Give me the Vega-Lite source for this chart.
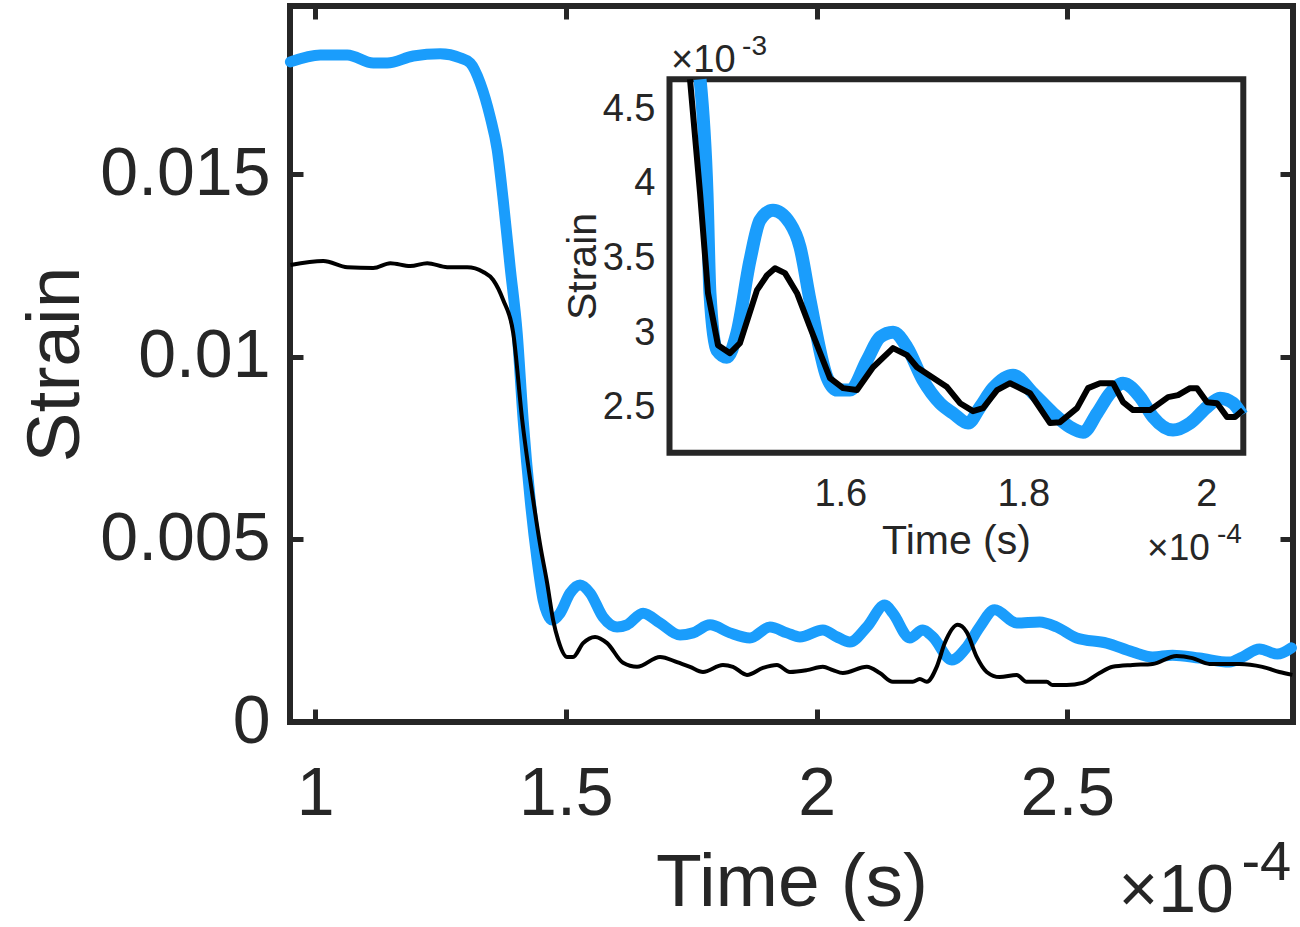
{
  "$schema": "https://vega.github.io/schema/vega-lite/v6.json",
  "width": 1003,
  "height": 716,
  "autosize": {"type": "none"},
  "padding": {"left": 290, "top": 6, "right": 7, "bottom": 205},
  "background": "white",
  "config": {
    "font": "Liberation Sans",
    "view": {"stroke": "#262626", "strokeWidth": 6},
    "axis": {
      "domain": false,
      "grid": false,
      "labelColor": "#262626",
      "titleColor": "#262626",
      "tickColor": "#262626",
      "labelFont": "Liberation Sans",
      "titleFont": "Liberation Sans",
      "titleFontWeight": "normal",
      "labelFlush": false,
      "labelOverlap": false,
      "labelExpr": "format(datum.value, '~g')",
      "zindex": 1
    },
    "text": {"font": "Liberation Sans", "color": "#262626"}
  },
  "datasets": {
    "main": [
      {"t": 0.9508, "v": 0.01807, "s": "a"}, {"t": 1.0106, "v": 0.01826, "s": "a"}, {"t": 1.0643, "v": 0.01826, "s": "a"},
      {"t": 1.1161, "v": 0.01804, "s": "a"}, {"t": 1.144, "v": 0.01804, "s": "a"}, {"t": 1.1958, "v": 0.01823, "s": "a"},
      {"t": 1.2496, "v": 0.01829, "s": "a"}, {"t": 1.2894, "v": 0.01818, "s": "a"}, {"t": 1.3094, "v": 0.01804, "s": "a"},
      {"t": 1.3293, "v": 0.01749, "s": "a"}, {"t": 1.3492, "v": 0.01656, "s": "a"}, {"t": 1.3632, "v": 0.01566, "s": "a"},
      {"t": 1.3751, "v": 0.01429, "s": "a"}, {"t": 1.389, "v": 0.01245, "s": "a"}, {"t": 1.403, "v": 0.01065, "s": "a"},
      {"t": 1.4149, "v": 0.00827, "s": "a"}, {"t": 1.4289, "v": 0.00608, "s": "a"}, {"t": 1.4428, "v": 0.00443, "s": "a"},
      {"t": 1.4548, "v": 0.00334, "s": "a"}, {"t": 1.4627, "v": 0.00298, "s": "a"}, {"t": 1.4727, "v": 0.00279, "s": "a"},
      {"t": 1.4886, "v": 0.00298, "s": "a"}, {"t": 1.5086, "v": 0.00353, "s": "a"}, {"t": 1.5285, "v": 0.00375, "s": "a"},
      {"t": 1.5484, "v": 0.00353, "s": "a"}, {"t": 1.5743, "v": 0.00287, "s": "a"}, {"t": 1.6022, "v": 0.0026, "s": "a"},
      {"t": 1.6221, "v": 0.00266, "s": "a"}, {"t": 1.654, "v": 0.00298, "s": "a"}, {"t": 1.6878, "v": 0.00271, "s": "a"},
      {"t": 1.7277, "v": 0.00238, "s": "a"}, {"t": 1.7536, "v": 0.00244, "s": "a"}, {"t": 1.7875, "v": 0.00266, "s": "a"},
      {"t": 1.8273, "v": 0.00244, "s": "a"}, {"t": 1.8671, "v": 0.0023, "s": "a"}, {"t": 1.907, "v": 0.0026, "s": "a"},
      {"t": 1.9408, "v": 0.00244, "s": "a"}, {"t": 1.9667, "v": 0.00233, "s": "a"}, {"t": 2.0125, "v": 0.00252, "s": "a"},
      {"t": 2.0404, "v": 0.00233, "s": "a"}, {"t": 2.0663, "v": 0.00219, "s": "a"}, {"t": 2.1002, "v": 0.0026, "s": "a"},
      {"t": 2.1361, "v": 0.0032, "s": "a"}, {"t": 2.152, "v": 0.00298, "s": "a"}, {"t": 2.1859, "v": 0.0023, "s": "a"},
      {"t": 2.2118, "v": 0.00252, "s": "a"}, {"t": 2.2317, "v": 0.00233, "s": "a"}, {"t": 2.2695, "v": 0.0017, "s": "a"},
      {"t": 2.2994, "v": 0.00205, "s": "a"}, {"t": 2.3253, "v": 0.0026, "s": "a"}, {"t": 2.3552, "v": 0.00307, "s": "a"},
      {"t": 2.399, "v": 0.00271, "s": "a"}, {"t": 2.4448, "v": 0.00274, "s": "a"}, {"t": 2.4787, "v": 0.0026, "s": "a"},
      {"t": 2.5185, "v": 0.0023, "s": "a"}, {"t": 2.5783, "v": 0.00216, "s": "a"}, {"t": 2.6301, "v": 0.00192, "s": "a"},
      {"t": 2.6699, "v": 0.00178, "s": "a"}, {"t": 2.7098, "v": 0.00183, "s": "a"}, {"t": 2.7635, "v": 0.00175, "s": "a"},
      {"t": 2.8233, "v": 0.00164, "s": "a"}, {"t": 2.8492, "v": 0.00178, "s": "a"}, {"t": 2.8831, "v": 0.002, "s": "a"},
      {"t": 2.9189, "v": 0.00186, "s": "a"}, {"t": 2.9468, "v": 0.00203, "s": "a"},
      {"t": 0.9508, "v": 0.01251, "s": "b"}, {"t": 1.0165, "v": 0.01262, "s": "b"}, {"t": 1.0643, "v": 0.01245, "s": "b"},
      {"t": 1.1161, "v": 0.01243, "s": "b"}, {"t": 1.15, "v": 0.01256, "s": "b"}, {"t": 1.1898, "v": 0.01248, "s": "b"},
      {"t": 1.2237, "v": 0.01256, "s": "b"}, {"t": 1.2635, "v": 0.01245, "s": "b"}, {"t": 1.3034, "v": 0.01245, "s": "b"},
      {"t": 1.3353, "v": 0.01232, "s": "b"}, {"t": 1.3552, "v": 0.0121, "s": "b"}, {"t": 1.3751, "v": 0.01155, "s": "b"},
      {"t": 1.3951, "v": 0.01065, "s": "b"}, {"t": 1.413, "v": 0.00827, "s": "b"}, {"t": 1.4349, "v": 0.00608, "s": "b"},
      {"t": 1.4488, "v": 0.00485, "s": "b"}, {"t": 1.4627, "v": 0.00381, "s": "b"}, {"t": 1.4747, "v": 0.00279, "s": "b"},
      {"t": 1.4847, "v": 0.00225, "s": "b"}, {"t": 1.5026, "v": 0.00178, "s": "b"}, {"t": 1.5145, "v": 0.00178, "s": "b"},
      {"t": 1.5345, "v": 0.00216, "s": "b"}, {"t": 1.5584, "v": 0.00233, "s": "b"}, {"t": 1.5823, "v": 0.00216, "s": "b"},
      {"t": 1.6141, "v": 0.00162, "s": "b"}, {"t": 1.642, "v": 0.00151, "s": "b"}, {"t": 1.6878, "v": 0.00178, "s": "b"},
      {"t": 1.7217, "v": 0.00164, "s": "b"}, {"t": 1.7476, "v": 0.00151, "s": "b"}, {"t": 1.7735, "v": 0.00137, "s": "b"},
      {"t": 1.8133, "v": 0.00156, "s": "b"}, {"t": 1.8333, "v": 0.00151, "s": "b"}, {"t": 1.8612, "v": 0.00129, "s": "b"},
      {"t": 1.893, "v": 0.00148, "s": "b"}, {"t": 1.9209, "v": 0.00156, "s": "b"}, {"t": 1.9468, "v": 0.00137, "s": "b"},
      {"t": 1.9807, "v": 0.00142, "s": "b"}, {"t": 2.0125, "v": 0.00151, "s": "b"}, {"t": 2.0325, "v": 0.00142, "s": "b"},
      {"t": 2.0524, "v": 0.00134, "s": "b"}, {"t": 2.1002, "v": 0.00151, "s": "b"}, {"t": 2.1261, "v": 0.00134, "s": "b"},
      {"t": 2.152, "v": 0.0011, "s": "b"}, {"t": 2.1918, "v": 0.0011, "s": "b"}, {"t": 2.2058, "v": 0.00118, "s": "b"},
      {"t": 2.2197, "v": 0.0011, "s": "b"}, {"t": 2.2396, "v": 0.00151, "s": "b"}, {"t": 2.2556, "v": 0.00216, "s": "b"},
      {"t": 2.2815, "v": 0.00266, "s": "b"}, {"t": 2.2994, "v": 0.00246, "s": "b"}, {"t": 2.3193, "v": 0.00178, "s": "b"},
      {"t": 2.3392, "v": 0.00137, "s": "b"}, {"t": 2.3651, "v": 0.00123, "s": "b"}, {"t": 2.399, "v": 0.00129, "s": "b"},
      {"t": 2.4189, "v": 0.0011, "s": "b"}, {"t": 2.4588, "v": 0.0011, "s": "b"}, {"t": 2.4707, "v": 0.00101, "s": "b"},
      {"t": 2.4986, "v": 0.00101, "s": "b"}, {"t": 2.5305, "v": 0.00107, "s": "b"}, {"t": 2.5643, "v": 0.00134, "s": "b"},
      {"t": 2.5902, "v": 0.00151, "s": "b"}, {"t": 2.6301, "v": 0.00156, "s": "b"}, {"t": 2.6699, "v": 0.00159, "s": "b"},
      {"t": 2.7177, "v": 0.00181, "s": "b"}, {"t": 2.7496, "v": 0.00175, "s": "b"}, {"t": 2.7835, "v": 0.00159, "s": "b"},
      {"t": 2.8432, "v": 0.00159, "s": "b"}, {"t": 2.889, "v": 0.00151, "s": "b"}, {"t": 2.9229, "v": 0.00137, "s": "b"},
      {"t": 2.9488, "v": 0.00129, "s": "b"}
    ],
    "inset": [
      {"t": 1.4467, "v": 4.7, "s": "a"}, {"t": 1.4543, "v": 3.937, "s": "a"}, {"t": 1.4575, "v": 3.268, "s": "a"},
      {"t": 1.4651, "v": 2.886, "s": "a"}, {"t": 1.476, "v": 2.839, "s": "a"}, {"t": 1.4869, "v": 3.0, "s": "a"},
      {"t": 1.5013, "v": 3.489, "s": "a"}, {"t": 1.5122, "v": 3.756, "s": "a"}, {"t": 1.5264, "v": 3.823, "s": "a"},
      {"t": 1.545, "v": 3.736, "s": "a"}, {"t": 1.556, "v": 3.575, "s": "a"}, {"t": 1.5669, "v": 3.22, "s": "a"},
      {"t": 1.5854, "v": 2.705, "s": "a"}, {"t": 1.5964, "v": 2.619, "s": "a"}, {"t": 1.6106, "v": 2.619, "s": "a"},
      {"t": 1.6292, "v": 2.819, "s": "a"}, {"t": 1.6434, "v": 2.973, "s": "a"}, {"t": 1.6576, "v": 3.007, "s": "a"},
      {"t": 1.6729, "v": 2.906, "s": "a"}, {"t": 1.6904, "v": 2.685, "s": "a"}, {"t": 1.709, "v": 2.531, "s": "a"},
      {"t": 1.7232, "v": 2.464, "s": "a"}, {"t": 1.7396, "v": 2.398, "s": "a"}, {"t": 1.7527, "v": 2.505, "s": "a"},
      {"t": 1.7669, "v": 2.632, "s": "a"}, {"t": 1.7888, "v": 2.719, "s": "a"}, {"t": 1.8106, "v": 2.598, "s": "a"},
      {"t": 1.8325, "v": 2.464, "s": "a"}, {"t": 1.8511, "v": 2.371, "s": "a"}, {"t": 1.8653, "v": 2.337, "s": "a"},
      {"t": 1.8806, "v": 2.464, "s": "a"}, {"t": 1.8948, "v": 2.598, "s": "a"}, {"t": 1.909, "v": 2.665, "s": "a"},
      {"t": 1.9276, "v": 2.572, "s": "a"}, {"t": 1.9418, "v": 2.438, "s": "a"}, {"t": 1.9636, "v": 2.351, "s": "a"},
      {"t": 1.9822, "v": 2.398, "s": "a"}, {"t": 2.0008, "v": 2.505, "s": "a"}, {"t": 2.015, "v": 2.565, "s": "a"},
      {"t": 2.0292, "v": 2.531, "s": "a"}, {"t": 2.039, "v": 2.451, "s": "a"},
      {"t": 1.4357, "v": 4.7, "s": "b"}, {"t": 1.4467, "v": 3.937, "s": "b"}, {"t": 1.4554, "v": 3.268, "s": "b"},
      {"t": 1.4663, "v": 2.92, "s": "b"}, {"t": 1.4794, "v": 2.866, "s": "b"}, {"t": 1.4903, "v": 2.933, "s": "b"},
      {"t": 1.5089, "v": 3.288, "s": "b"}, {"t": 1.5199, "v": 3.388, "s": "b"}, {"t": 1.5286, "v": 3.435, "s": "b"},
      {"t": 1.5395, "v": 3.402, "s": "b"}, {"t": 1.5527, "v": 3.268, "s": "b"}, {"t": 1.5669, "v": 3.04, "s": "b"},
      {"t": 1.5887, "v": 2.699, "s": "b"}, {"t": 1.603, "v": 2.632, "s": "b"}, {"t": 1.6182, "v": 2.619, "s": "b"},
      {"t": 1.6357, "v": 2.772, "s": "b"}, {"t": 1.6576, "v": 2.9, "s": "b"}, {"t": 1.6729, "v": 2.853, "s": "b"},
      {"t": 1.6838, "v": 2.772, "s": "b"}, {"t": 1.7166, "v": 2.639, "s": "b"}, {"t": 1.7308, "v": 2.531, "s": "b"},
      {"t": 1.745, "v": 2.478, "s": "b"}, {"t": 1.756, "v": 2.498, "s": "b"}, {"t": 1.7713, "v": 2.619, "s": "b"},
      {"t": 1.7855, "v": 2.665, "s": "b"}, {"t": 1.8073, "v": 2.598, "s": "b"}, {"t": 1.8292, "v": 2.398, "s": "b"},
      {"t": 1.8401, "v": 2.404, "s": "b"}, {"t": 1.8587, "v": 2.498, "s": "b"}, {"t": 1.8707, "v": 2.632, "s": "b"},
      {"t": 1.8838, "v": 2.665, "s": "b"}, {"t": 1.898, "v": 2.665, "s": "b"}, {"t": 1.909, "v": 2.538, "s": "b"},
      {"t": 1.9199, "v": 2.485, "s": "b"}, {"t": 1.9385, "v": 2.485, "s": "b"}, {"t": 1.9582, "v": 2.572, "s": "b"},
      {"t": 1.9691, "v": 2.585, "s": "b"}, {"t": 1.9822, "v": 2.632, "s": "b"}, {"t": 1.9898, "v": 2.632, "s": "b"},
      {"t": 2.0008, "v": 2.538, "s": "b"}, {"t": 2.0117, "v": 2.531, "s": "b"}, {"t": 2.0226, "v": 2.438, "s": "b"},
      {"t": 2.0314, "v": 2.438, "s": "b"}, {"t": 2.0401, "v": 2.485, "s": "b"}
    ]
  },
  "layer": [
    {
      "data": {"name": "main"},
      "encoding": {
        "x": {
          "field": "t", "type": "quantitative",
          "scale": {"domain": [0.95, 2.95]},
          "axis": {
            "orient": "bottom", "values": [1, 1.5, 2, 2.5],
            "tickSize": -13, "tickWidth": 5, "labelFontSize": 68, "labelPadding": 51,
            "title": "Time (s)", "titleFontSize": 75, "titleX": 501.5, "titleY": 183,
            "titleBaseline": "alphabetic", "titleAlign": "center"
          }
        },
        "y": {
          "field": "v", "type": "quantitative",
          "scale": {"domain": [0, 0.0196]},
          "axis": {
            "orient": "left", "values": [0, 0.005, 0.01, 0.015],
            "tickSize": -13, "tickWidth": 5, "labelFontSize": 68, "labelPadding": 33,
            "title": "Strain", "titleFontSize": 75, "titleX": -212, "titleY": 358,
            "titleBaseline": "alphabetic", "titleAlign": "center", "titleAngle": 270
          }
        }
      },
      "layer": [
        {
          "transform": [{"filter": "datum.s == 'a'"}],
          "mark": {"type": "line", "color": "#1a9dfc", "strokeWidth": 11, "strokeJoin": "round", "strokeCap": "round", "interpolate": "monotone"}
        },
        {
          "transform": [{"filter": "datum.s == 'b'"}],
          "mark": {"type": "line", "color": "#000000", "strokeWidth": 4, "strokeJoin": "round", "interpolate": "monotone"}
        }
      ]
    },
    {
      "data": {"name": "main"},
      "mark": {"type": "point", "opacity": 0},
      "encoding": {
        "x": {
          "field": "t", "type": "quantitative",
          "scale": {"domain": [0.95, 2.95]},
          "axis": {"orient": "top", "values": [1, 1.5, 2, 2.5], "tickSize": -13, "tickWidth": 5, "labels": false, "title": null}
        },
        "y": {
          "field": "v", "type": "quantitative",
          "scale": {"domain": [0, 0.0196]},
          "axis": {"orient": "right", "values": [0, 0.005, 0.01, 0.015], "tickSize": -13, "tickWidth": 5, "labels": false, "title": null}
        }
      }
    },
    {
      "data": {"values": [{"k": 1}]},
      "layer": [
        {
          "mark": {"type": "text", "text": "×10", "fontSize": 68, "align": "left", "baseline": "alphabetic"},
          "encoding": {
            "x": {"datum": 2.6022, "type": "quantitative", "scale": {"domain": [0.95, 2.95]}, "axis": null},
            "y": {"datum": -0.005201, "type": "quantitative", "scale": {"domain": [0, 0.0196]}, "axis": null}
          }
        },
        {
          "mark": {"type": "text", "text": "-4", "fontSize": 56, "align": "left", "baseline": "alphabetic"},
          "encoding": {
            "x": {"datum": 2.8472, "type": "quantitative", "scale": {"domain": [0.95, 2.95]}, "axis": null},
            "y": {"datum": -0.004325, "type": "quantitative", "scale": {"domain": [0, 0.0196]}, "axis": null}
          }
        }
      ]
    },
    {
      "data": {"values": [{"k": 1}]},
      "mark": {"type": "rect", "fill": "white", "stroke": "#262626", "strokeWidth": 6},
      "encoding": {
        "x": {"datum": 1.4133, "type": "quantitative", "scale": {"domain": [0.99855, 2.09472]}, "axis": null},
        "x2": {"datum": 2.0404},
        "y": {"datum": 2.2, "type": "quantitative", "scale": {"domain": [0.3961, 5.1913]}, "axis": null},
        "y2": {"datum": 4.7}
      }
    },
    {
      "data": {"name": "inset"},
      "encoding": {
        "x": {
          "field": "t", "type": "quantitative",
          "scale": {"domain": [0.99855, 2.09472]},
          "axis": {
            "orient": "bottom", "offset": -269.5, "values": [1.6, 1.8, 2],
            "tickSize": -9, "tickWidth": 5, "labelFontSize": 38, "labelPadding": 31.5,
            "title": "Time (s)", "titleFontSize": 41, "titleX": 666, "titleY": 100.5,
            "titleBaseline": "alphabetic", "titleAlign": "center"
          }
        },
        "y": {
          "field": "v", "type": "quantitative",
          "scale": {"domain": [0.3961, 5.1913]},
          "axis": {
            "orient": "left", "offset": -379.5, "values": [2.5, 3, 3.5, 4, 4.5],
            "tickSize": -9, "tickWidth": 5, "labelFontSize": 38, "labelPadding": 23.5,
            "title": "Strain", "titleFontSize": 41, "titleX": -74, "titleY": 260,
            "titleBaseline": "alphabetic", "titleAlign": "center", "titleAngle": 270
          }
        }
      },
      "layer": [
        {
          "transform": [{"filter": "datum.s == 'a'"}],
          "mark": {"type": "line", "color": "#1a9dfc", "strokeWidth": 13, "strokeJoin": "round", "interpolate": "monotone"}
        },
        {
          "transform": [{"filter": "datum.s == 'b'"}],
          "mark": {"type": "line", "color": "#000000", "strokeWidth": 6, "strokeJoin": "round"}
        }
      ]
    },
    {
      "data": {"name": "inset"},
      "mark": {"type": "point", "opacity": 0},
      "encoding": {
        "x": {
          "field": "t", "type": "quantitative",
          "scale": {"domain": [0.99855, 2.09472]},
          "axis": {"orient": "top", "offset": -73.4, "values": [1.6, 1.8, 2], "tickSize": -9, "tickWidth": 5, "labels": false, "title": null}
        },
        "y": {
          "field": "v", "type": "quantitative",
          "scale": {"domain": [0.3961, 5.1913]},
          "axis": {"orient": "right", "offset": -49.7, "values": [2.5, 3, 3.5, 4, 4.5], "tickSize": -9, "tickWidth": 5, "labels": false, "title": null}
        }
      }
    },
    {
      "data": {"values": [{"k": 1}]},
      "layer": [
        {
          "mark": {"type": "text", "text": "×10", "fontSize": 38, "align": "left", "baseline": "alphabetic"},
          "encoding": {
            "x": {"datum": 1.415, "type": "quantitative", "scale": {"domain": [0.99855, 2.09472]}, "axis": null},
            "y": {"datum": 4.747, "type": "quantitative", "scale": {"domain": [0.3961, 5.1913]}, "axis": null}
          }
        },
        {
          "mark": {"type": "text", "text": "-3", "fontSize": 28, "align": "left", "baseline": "alphabetic"},
          "encoding": {
            "x": {"datum": 1.4926, "type": "quantitative", "scale": {"domain": [0.99855, 2.09472]}, "axis": null},
            "y": {"datum": 4.8608, "type": "quantitative", "scale": {"domain": [0.3961, 5.1913]}, "axis": null}
          }
        },
        {
          "mark": {"type": "text", "text": "×10", "fontSize": 37, "align": "left", "baseline": "alphabetic"},
          "encoding": {
            "x": {"datum": 1.9352, "type": "quantitative", "scale": {"domain": [0.99855, 2.09472]}, "axis": null},
            "y": {"datum": 1.4806, "type": "quantitative", "scale": {"domain": [0.3961, 5.1913]}, "axis": null}
          }
        },
        {
          "mark": {"type": "text", "text": "-4", "fontSize": 28, "align": "left", "baseline": "alphabetic"},
          "encoding": {
            "x": {"datum": 2.0117, "type": "quantitative", "scale": {"domain": [0.99855, 2.09472]}, "axis": null},
            "y": {"datum": 1.5944, "type": "quantitative", "scale": {"domain": [0.3961, 5.1913]}, "axis": null}
          }
        }
      ]
    }
  ],
  "resolve": {
    "scale": {"x": "independent", "y": "independent"},
    "axis": {"x": "independent", "y": "independent"}
  }
}
